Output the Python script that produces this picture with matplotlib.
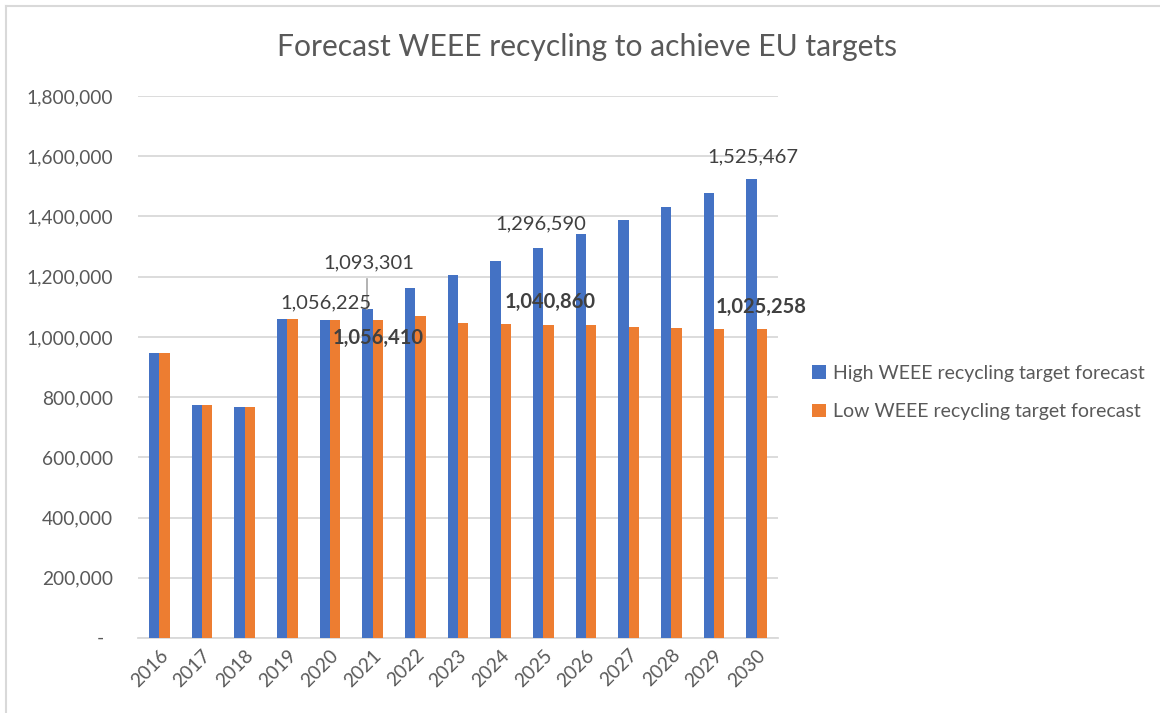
import matplotlib
matplotlib.use("Agg")
import matplotlib.pyplot as plt
import numpy as np
from matplotlib.ticker import FuncFormatter
from matplotlib.patches import Patch
from matplotlib.lines import Line2D
from matplotlib.transforms import blended_transform_factory

years = ["2016", "2017", "2018", "2019", "2020", "2021", "2022", "2023",
         "2024", "2025", "2026", "2027", "2028", "2029", "2030"]
high = [947000, 775000, 768000, 1061000, 1056225, 1093301, 1161000, 1206000,
        1252000, 1296590, 1342000, 1387000, 1431000, 1477000, 1525467]
low = [947000, 775000, 768000, 1061000, 1056225, 1056410, 1068000, 1045000,
       1042000, 1040860, 1038500, 1034500, 1031000, 1027000, 1025258]
series_names = ["High WEEE recycling target forecast",
                "Low WEEE recycling target forecast"]
title = "Forecast WEEE recycling to achieve EU targets"

BLUE = "#4472C4"
ORANGE = "#ED7D31"
GRID = "#D9D9D9"
TXT = "#595959"
LBL = "#404040"
FONT = ["Lato", "DejaVu Sans"]

plt.rcParams["font.family"] = FONT

W, H = 1160, 713
fig = plt.figure(figsize=(W / 100, H / 100), dpi=100)
ax = fig.add_axes([138 / W, 1 - 638 / H, (778 - 138) / W, (638 - 96) / H])

x = np.arange(len(years))
bw = 0.24
ax.bar(x - bw / 2, high, width=bw, color=BLUE, zorder=3, label=series_names[0])
ax.bar(x + bw / 2, low, width=bw, color=ORANGE, zorder=3, label=series_names[1])

ax.set_xlim(-0.5, len(years) - 0.5)
ax.set_ylim(0, 1800000)
ax.set_yticks(np.arange(0, 1800001, 200000))
ax.yaxis.set_major_formatter(FuncFormatter(lambda v, p: "" if v == 0 else f"{int(v):,}"))
ax.grid(axis="y", color=GRID, linewidth=1.3, zorder=0)
ax.set_axisbelow(True)
for s in ["top", "right", "left"]:
    ax.spines[s].set_visible(False)
ax.spines["bottom"].set_color(GRID)
ax.spines["bottom"].set_linewidth(1.3)
ax.tick_params(axis="y", length=0, pad=18, labelsize=13.8, labelcolor=TXT)
ax.tick_params(axis="x", length=0, pad=6, labelsize=13.8, labelcolor=TXT)
ax.set_xticks(x)
ax.set_xticklabels(years, rotation=45, ha="right", rotation_mode="anchor")

# zero label shown as a dash (accounting format)
ax.text(-38 / 640, 0, "-", transform=blended_transform_factory(ax.transAxes, ax.transData),
        ha="center", va="center", fontsize=13.8, color=TXT)

# title
fig.text(587 / W, 1 - 47 / H, title, ha="center", va="center", fontsize=21.6, color=TXT)

# data labels: (index, series, x offset in categories, y position, weight)
labels = [
    (4, "high", -0.09, 1112500, "normal"),
    (5, "high", -0.09, 1245400, "normal"),
    (5, "low", 0.13, 996300, "bold"),
    (9, "high", -0.05, 1374900, "normal"),
    (9, "low", 0.16, 1115900, "bold"),
    (14, "high", -0.09, 1597400, "normal"),
    (14, "low", 0.11, 1100000, "bold"),
]
for i, ser, dx, ypos, wt in labels:
    v = high[i] if ser == "high" else low[i]
    ax.text(i + dx, ypos, f"{v:,}", ha="center", va="center", fontsize=14.5,
            color=LBL, fontweight=wt, zorder=5)

# leader line for 2021 high label
ax.plot([5 - 0.13, 5 - 0.13], [1192000, high[5]], color="#A6A6A6", lw=1.2, zorder=4)

# legend
handles = [Patch(facecolor=BLUE, edgecolor="none"), Patch(facecolor=ORANGE, edgecolor="none")]
fig.legend(handles, series_names, loc="center left",
           bbox_to_anchor=(812 / W, 1 - 392.5 / H), frameon=False,
           handlelength=0.7, handleheight=0.7, handletextpad=0.4,
           labelspacing=1.1, borderpad=0, borderaxespad=0,
           fontsize=14, labelcolor=TXT)

# chart border (left and top visible)
fig.add_artist(Line2D([6 / W, 6 / W], [0, 1 - 6 / H], color=GRID, lw=1.5, transform=fig.transFigure))
fig.add_artist(Line2D([6 / W, 1], [1 - 6 / H, 1 - 6 / H], color=GRID, lw=1.5, transform=fig.transFigure))

fig.savefig("out.png", dpi=100, facecolor="white")
